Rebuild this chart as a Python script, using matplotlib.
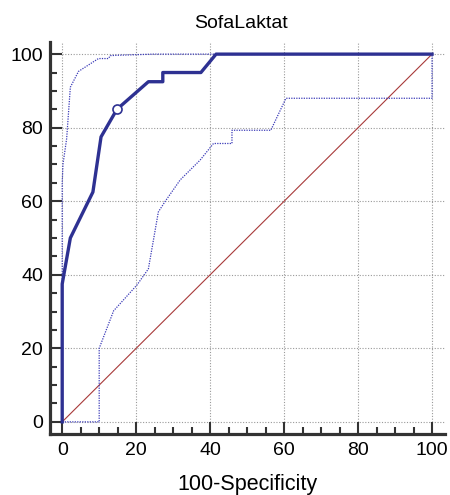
import matplotlib
matplotlib.use("Agg")
import matplotlib.pyplot as plt
from matplotlib.ticker import MultipleLocator

plt.rcParams['font.family'] = ['Liberation Sans', 'DejaVu Sans']

# ROC-Kurve (100-Spezifität, Sensitivität)
roc_x = [0, 0, 2.2, 8.3, 10.5, 14.8, 23.3, 27.2, 27.2, 37.5, 41.6, 100]
roc_y = [0, 37.5, 50, 62.5, 77.5, 85, 92.5, 92.5, 95, 95, 100, 100]

# Kriterium (markierter Punkt)
crit_x = [14.8]
crit_y = [85]

# Konfidenzgrenzen
upper_x = [0, 0, 0.2, 1.2, 2.2, 4.4, 9.8, 12.5, 13, 15.2, 24.6, 100]
upper_y = [0, 65, 70, 77, 91, 95.3, 98.8, 98.8, 99.6, 99.7, 100, 100]

lower_x = [0, 10, 10, 13.9, 20.2, 23.3, 26, 27.8, 31.9, 37.3, 40.9, 45.9, 45.9,
           56.4, 60.5, 100, 100]
lower_y = [0, 0, 20, 30.2, 37.2, 41.6, 57.1, 59.9, 65.8, 71.2, 75.7, 75.7, 79.3,
           79.3, 88, 88, 100]

ticks = [0, 20, 40, 60, 80, 100]

fig = plt.figure(figsize=(4.5, 4.95), dpi=100)
ax = fig.add_axes([50 / 450, (495 - 434) / 495, 395 / 450, 392 / 495])
xmax, ymax = 103.5, 103.3
ax.set_xlim(-3.3, xmax)
ax.set_ylim(-3.3, ymax)

# Gitter
grid_kw = dict(color='#9a9a9a', linestyle=(0, (1, 1.5)), linewidth=0.8, zorder=1)
ax.hlines(ticks, 0, xmax, **grid_kw)
ax.vlines(ticks, 0, ymax, **grid_kw)

# Diagonale
ax.plot([0, 100], [0, 100], color='#a83a3a', linewidth=0.8, zorder=2)

# Konfidenzband
ax.plot(upper_x, upper_y, color='#3b3bb8', linewidth=0.9, linestyle=(0, (1, 1)), zorder=3)
ax.plot(lower_x, lower_y, color='#3b3bb8', linewidth=0.9, linestyle=(0, (1, 1)), zorder=3)

# ROC
ax.plot(roc_x, roc_y, color='#2e3192', linewidth=2.4, zorder=4, clip_on=False)
ax.plot(crit_x, crit_y, 'o', markersize=6.5, markerfacecolor='white',
        markeredgecolor='#2e3192', markeredgewidth=1.2, zorder=5)

for s in ['top', 'right']:
    ax.spines[s].set_visible(False)
for s in ['left', 'bottom']:
    ax.spines[s].set_linewidth(2.3)
    ax.spines[s].set_color('#333333')

ax.set_xticks(ticks)
ax.set_yticks(ticks)
ax.xaxis.set_minor_locator(MultipleLocator(5))
ax.yaxis.set_minor_locator(MultipleLocator(5))
ax.tick_params(which='major', direction='in', length=8.5, width=1.5, color='#333333',
               labelsize=14)
ax.tick_params(which='minor', direction='in', length=5, width=1.5, color='#333333')
ax.tick_params(axis='x', which='major', pad=6)
ax.tick_params(axis='y', which='major', pad=5)

fig.text(241 / 450, (495 - 28) / 495, 'SofaLaktat', ha='center', va='baseline',
         fontsize=14)
fig.text(247.5 / 450, (495 - 490) / 495, '100-Specificity', ha='center',
         va='baseline', fontsize=15.5)

fig.savefig('out.png', dpi=100)
